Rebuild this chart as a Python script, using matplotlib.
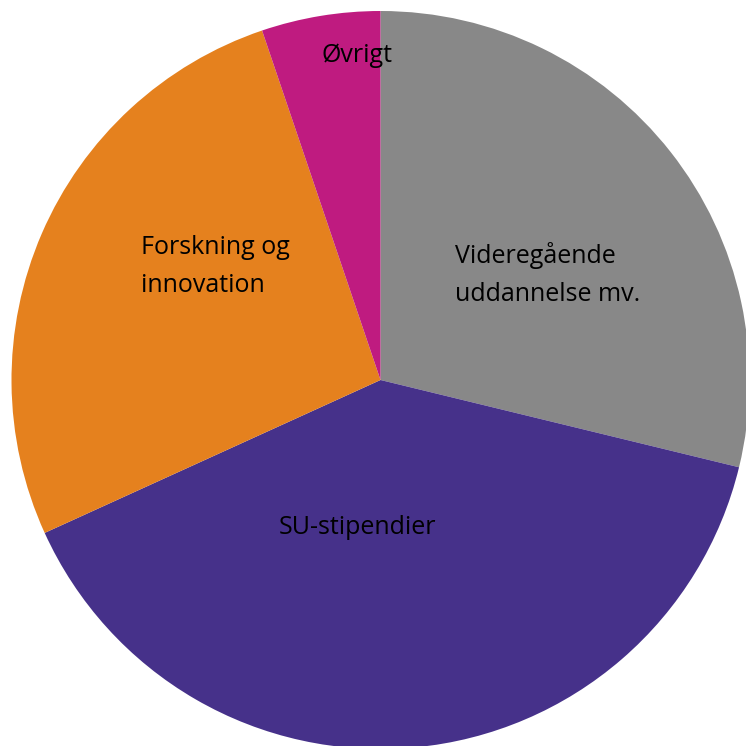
import matplotlib
matplotlib.use("Agg")
import matplotlib.pyplot as plt

# Andele (pct.), med uret fra kl. 12
kategorier = ["Videregående\nuddannelse mv.", "SU-stipendier",
              "Forskning og\ninnovation", "Øvrigt"]
andele = [28.8, 39.4, 26.6, 5.2]
farver = ["#888888", "#46318a", "#e5811e", "#bf1b80"]

plt.rcParams["font.family"] = ["Open Sans", "DejaVu Sans"]

W = H = 746
CX, CY, R = 380.5, 380.0, 369.0

fig = plt.figure(figsize=(W / 100, H / 100), dpi=100)
ax = fig.add_axes([0, 0, 1, 1])
ax.pie(andele, colors=farver, startangle=90, counterclock=False,
       radius=1.0, wedgeprops={"linewidth": 0})
ax.set_xlim(-CX / R, (W - CX) / R)
ax.set_ylim(-(H - CY) / R, CY / R)
ax.set_aspect("equal")
ax.axis("off")


def px(x, y):
    # pixel -> data
    return (x - CX) / R, (CY - y) / R


# etiketter: (x, grundlinje for sidste linje, justering) i pixels
etiket_pos = [(455, 301, "left"), (357.5, 534, "center"),
              (141.5, 292, "left"), (356.7, 61.5, "center")]
for tekst, (x, y, ha) in zip(kategorier, etiket_pos):
    tx, ty = px(x, y)
    ax.text(tx, ty, tekst, ha=ha, va="baseline", fontsize=18,
            color="black", linespacing=1.7)

fig.savefig("out.png", dpi=100)
